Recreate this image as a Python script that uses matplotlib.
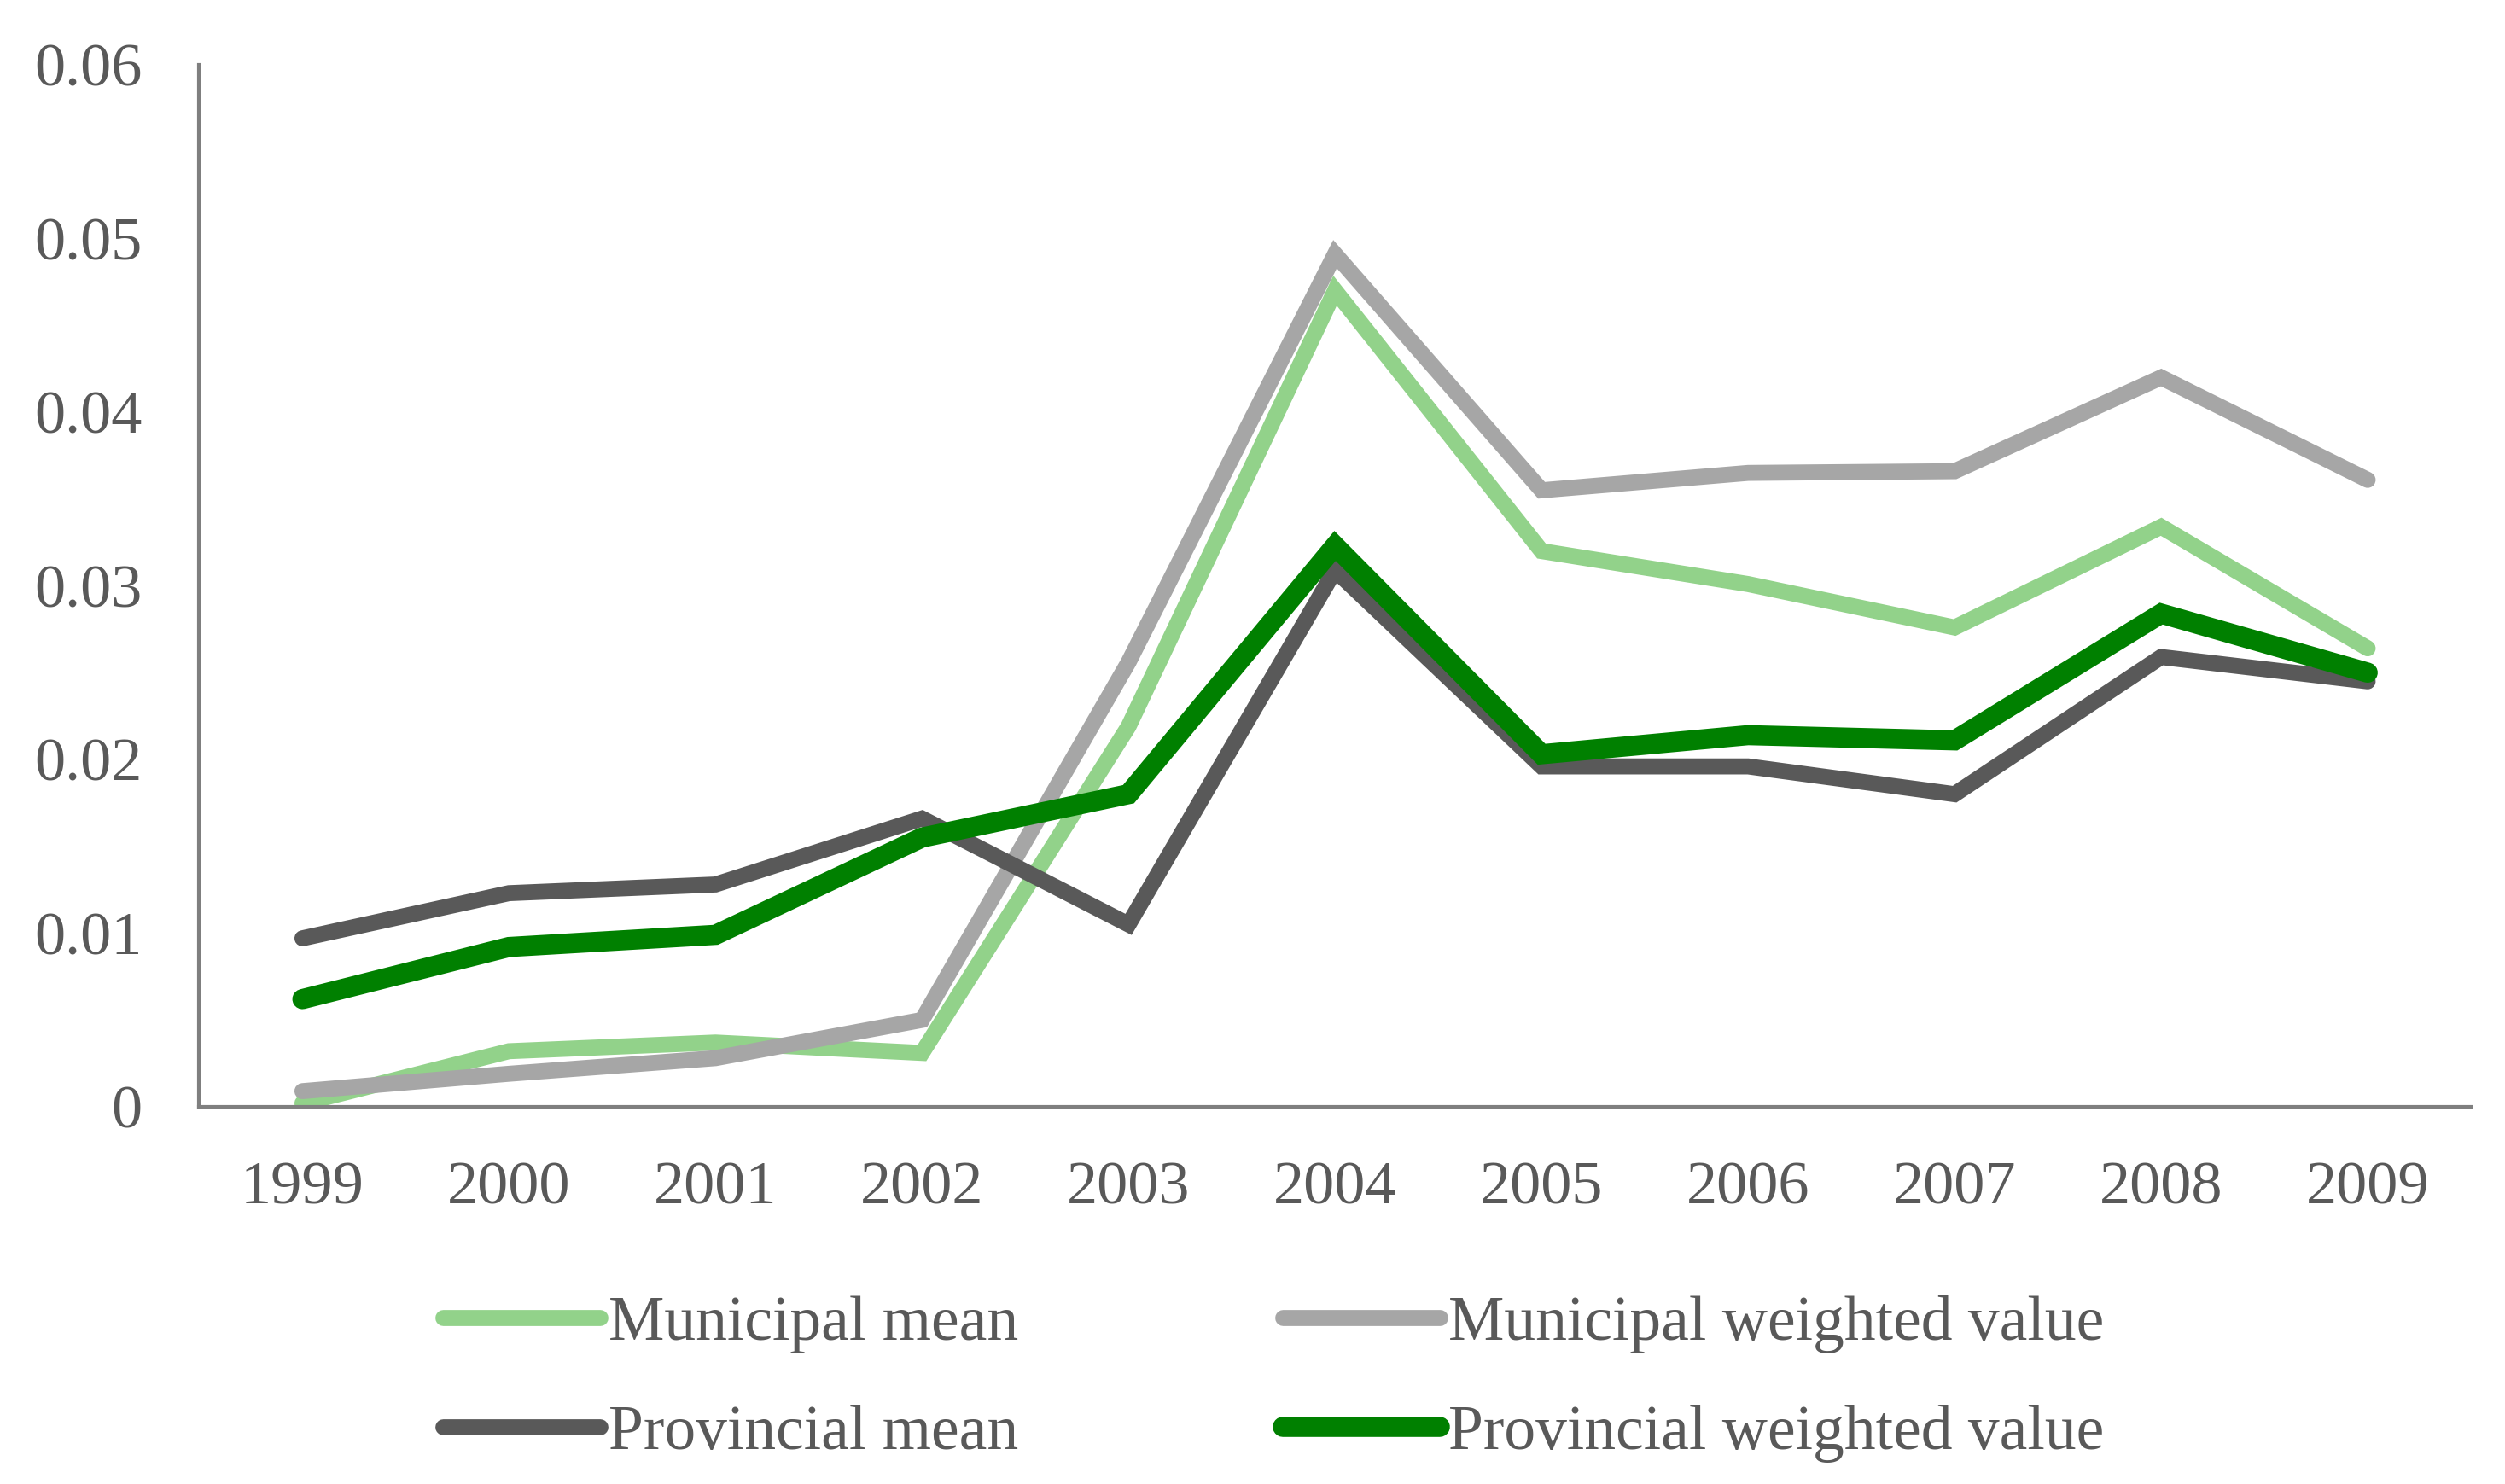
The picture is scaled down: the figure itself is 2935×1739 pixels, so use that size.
import matplotlib
matplotlib.use("Agg")
import matplotlib.pyplot as plt
from matplotlib.ticker import FuncFormatter, MultipleLocator

# --- datos ---
years = ["1999", "2000", "2001", "2002", "2003", "2004", "2005", "2006", "2007", "2008", "2009"]
municipal_mean = [0.0002, 0.0032, 0.0037, 0.0031, 0.0219, 0.0470, 0.0320, 0.0301, 0.0276, 0.0334, 0.0264]
municipal_weighted = [0.0009, 0.0019, 0.0028, 0.0050, 0.0256, 0.0491, 0.0355, 0.0365, 0.0366, 0.0420, 0.0361]
provincial_mean = [0.0097, 0.0123, 0.0128, 0.0166, 0.0105, 0.0309, 0.0196, 0.0196, 0.0180, 0.0259, 0.0245]
provincial_weighted = [0.0062, 0.0092, 0.0099, 0.0155, 0.0180, 0.0323, 0.0203, 0.0214, 0.0211, 0.0284, 0.0250]

TEXT = "#595959"
plt.rcParams["font.family"] = ["Liberation Serif", "DejaVu Serif"]

fig = plt.figure(figsize=(29.35, 17.39), dpi=100)
ax = fig.add_axes([0.0795, 0.2542, 0.9864 - 0.0795, 0.9563 - 0.2542])

x = list(range(len(years)))
series = [
    ("Municipal mean", municipal_mean, "#92d28a", 13.5),
    ("Municipal weighted value", municipal_weighted, "#a6a6a6", 13.5),
    ("Provincial mean", provincial_mean, "#595959", 13.5),
    ("Provincial weighted value", provincial_weighted, "#008000", 17),
]
lines = {}
for label, vals, color, lw in series:
    lines[label], = ax.plot(x, vals, color=color, lw=lw, label=label,
                            solid_capstyle="round", solid_joinstyle="miter")

ax.set_xlim(-0.5, len(years) - 0.5)
ax.set_ylim(0, 0.06)
ax.set_xticks(x)
ax.set_xticklabels(years)
ax.yaxis.set_major_locator(MultipleLocator(0.01))
ax.yaxis.set_major_formatter(FuncFormatter(lambda v, p: "0" if abs(v) < 1e-9 else f"{v:.2f}"))
ax.tick_params(axis="both", length=0, labelsize=52, colors=TEXT)
ax.tick_params(axis="y", pad=48)
ax.tick_params(axis="x", pad=46)

for side in ["top", "right"]:
    ax.spines[side].set_visible(False)
for side in ["left", "bottom"]:
    ax.spines[side].set_color("#7f7f7f")
    ax.spines[side].set_linewidth(3)

# orden por columnas: la leyenda de matplotlib se llena columna a columna
order = ["Municipal mean", "Provincial mean", "Municipal weighted value", "Provincial weighted value"]
leg = fig.legend([lines[k] for k in order], order, loc="center left",
                 bbox_to_anchor=(0.1768, 0.0707), ncol=2, frameon=False, fontsize=53,
                 handlelength=2.5, handletextpad=0.14, columnspacing=4.2,
                 labelspacing=0.82, borderpad=0, borderaxespad=0)
for t in leg.get_texts():
    t.set_color(TEXT)

fig.savefig("out.png", dpi=100)
